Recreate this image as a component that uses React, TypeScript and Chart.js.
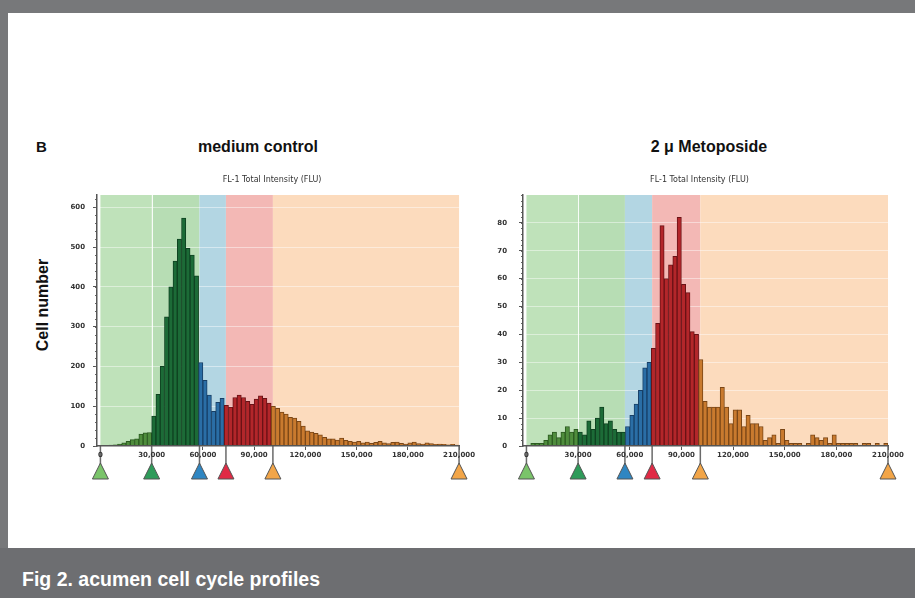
import React, { useEffect, useRef } from "react";
import { Chart, registerables } from "chart.js";

Chart.register(...registerables);

// Histogram bins: 2,500 FLU wide, 84 bins from 0 to 210,000
const BIN_WIDTH = 2500;
const X_TICKS = [0, 30000, 60000, 90000, 120000, 150000, 180000, 210000];

// Cell counts per bin, medium control
const controlCounts = [
  0, 1, 2, 3, 5, 8, 12, 16, 18, 30, 33, 34,
  75, 130, 200, 325, 400, 465, 520, 573, 497, 480, 428,
  210, 165, 128, 87, 110, 120,
  102, 98, 122, 128, 122, 112, 105, 118, 126, 120, 108,
  100, 95, 85, 80, 72, 70, 62, 50, 38, 35, 32, 28, 22, 18, 18, 15, 20, 14, 12, 10,
  12, 8, 10, 7, 9, 12, 8, 6, 9, 10, 7, 5, 8, 10, 6, 5, 8, 6, 4, 5, 4, 3, 4, 2,
];

// Cell counts per bin, 2 µ etoposide
const etoposideCounts = [
  0, 1, 1, 1, 2, 4, 5, 3, 5, 7, 5, 6, 5, 4, 9, 6, 10, 14, 8, 9, 6, 5, 5,
  7, 11, 15, 20, 28, 30,
  35, 44, 79, 60, 65, 68, 82, 58, 55, 41, 40,
  31, 16, 14, 14, 14, 21, 14, 8, 13, 13, 7, 11, 8, 8, 7, 2, 3, 4, 1, 6,
  2, 1, 1, 1, 0, 1, 4, 3, 2, 3, 1, 4, 1, 1, 1, 1, 1, 0, 1, 1, 0, 1, 0, 1,
];

// Gate boundaries (sub-G1 | G1 | S | G2/M | >4N)
const controlGates = [0, 30000, 58000, 73500, 101000, 210000];
const etoposideGates = [0, 30000, 57200, 73000, 101000, 210000];

const controlYTicks = [0, 100, 200, 300, 400, 500, 600];
const etoposideYTicks = [0, 10, 20, 30, 40, 50, 60, 70, 80];

const AXIS_TITLE = "FL-1 Total Intensity (FLU)";

const REGION_BG = ["#bfe2ba", "#b7ddb4", "#b3d6e3", "#f3b8b5", "#fcdbbd"];
const BAR_FILL = ["#4f8d3d", "#1c6b37", "#2a6ea6", "#b3262a", "#c97a2e"];
const BAR_EDGE = ["#2b5a20", "#0f4221", "#173f66", "#6a1216", "#7a4616"];
const MARKER_FILL = ["#7ac46a", "#2e9b5a", "#2f86c2", "#e02a45", "#f2a548", "#f2a548"];

const TICK_FONT = { family: "'DejaVu Sans', sans-serif", size: 7, weight: "bold" as const };

type HistProps = {
  counts: number[];
  gates: number[];
  yMax: number;
  yTicks: number[];
  minorStep: number;
  left: number;
  top: number;
  width: number;
  height: number;
  yAxisWidth: number;
  yLabelPad: number;
  padRight: number;
};

function regionOf(x: number, gates: number[]) {
  for (let k = 0; k < gates.length - 2; k++) {
    if (x < gates[k + 1]) return k;
  }
  return gates.length - 2;
}

function Histogram(props: HistProps) {
  const ref = useRef<HTMLCanvasElement | null>(null);

  useEffect(() => {
    const { counts, gates, yMax, yTicks, minorStep, yAxisWidth, yLabelPad, padRight } = props;
    const points = counts.map((c, i) => ({ x: i * BIN_WIDTH + BIN_WIDTH / 2, y: c }));
    const regions = points.map((p) => regionOf(p.x, gates));

    const gatePlugin = {
      id: "gates",
      beforeDraw(chart: any) {
        const { ctx, chartArea } = chart;
        const xs = chart.scales.x;
        ctx.save();
        for (let k = 0; k < gates.length - 1; k++) {
          const x0 = xs.getPixelForValue(gates[k]);
          const x1 = xs.getPixelForValue(gates[k + 1]);
          ctx.fillStyle = REGION_BG[k];
          ctx.fillRect(x0, chartArea.top, x1 - x0, chartArea.bottom - chartArea.top);
        }
        const xw = Math.round(xs.getPixelForValue(gates[1])) + 0.5;
        ctx.strokeStyle = "rgba(255,255,255,0.9)";
        ctx.lineWidth = 1;
        ctx.beginPath();
        ctx.moveTo(xw, chartArea.top);
        ctx.lineTo(xw, chartArea.bottom);
        ctx.stroke();
        ctx.restore();
      },
      afterDatasetsDraw(chart: any) {
        const { ctx, chartArea } = chart;
        const xs = chart.scales.x;
        const ys = chart.scales.y;
        ctx.save();
        // axis title
        ctx.fillStyle = "#333";
        ctx.font = "8px 'DejaVu Sans', sans-serif";
        ctx.textAlign = "center";
        ctx.textBaseline = "middle";
        ctx.fillText(AXIS_TITLE, (chartArea.left + chartArea.right) / 2 - 6, chartArea.top - 15);
        // minor ticks on the y axis
        ctx.strokeStyle = "#666";
        ctx.lineWidth = 1;
        ctx.beginPath();
        for (let v = 0; v <= yMax; v += minorStep) {
          const y = Math.round(ys.getPixelForValue(v)) + 0.5;
          ctx.moveTo(chartArea.left - 2, y);
          ctx.lineTo(chartArea.left, y);
        }
        ctx.stroke();
        // gate markers below the x axis
        const b = chartArea.bottom;
        gates.forEach((g, k) => {
          const x = xs.getPixelForValue(g);
          ctx.strokeStyle = "#6a6a6a";
          ctx.lineWidth = 1.5;
          ctx.beginPath();
          ctx.moveTo(x, b);
          ctx.lineTo(x, b + 24);
          ctx.stroke();
          ctx.fillStyle = MARKER_FILL[k];
          ctx.strokeStyle = "#555";
          ctx.lineWidth = 1;
          ctx.beginPath();
          ctx.moveTo(x, b + 17);
          ctx.lineTo(x + 8, b + 33);
          ctx.lineTo(x - 8, b + 33);
          ctx.closePath();
          ctx.fill();
          ctx.stroke();
        });
        ctx.restore();
      },
    };

    const chart = new Chart(ref.current as HTMLCanvasElement, {
      type: "bar",
      data: {
        datasets: [
          {
            data: points as any,
            backgroundColor: regions.map((r) => BAR_FILL[r]),
            borderColor: regions.map((r) => BAR_EDGE[r]),
            borderWidth: 1,
            barPercentage: 1,
            categoryPercentage: 1,
          },
        ],
      },
      options: {
        animation: false,
        responsive: false,
        maintainAspectRatio: false,
        layout: { padding: { top: 30, right: padRight, bottom: 24, left: 0 } },
        plugins: {
          legend: { display: false },
          tooltip: { enabled: false },
        },
        scales: {
          x: {
            type: "linear",
            offset: false,
            min: -2000,
            max: 210000,
            afterBuildTicks: (s: any) => {
              s.ticks = X_TICKS.map((v) => ({ value: v }));
            },
            afterFit: (s: any) => {
              s.height = 16;
            },
            grid: { drawOnChartArea: false, tickLength: 4, tickColor: "#555", offset: false },
            border: { color: "#555", width: 1.5, z: 1 },
            ticks: {
              font: TICK_FONT,
              color: "#333",
              padding: 1,
              maxRotation: 0,
              autoSkip: false,
              z: 1,
              callback: (v: any) => Number(v).toLocaleString("en-US"),
            },
          },
          y: {
            min: 0,
            max: yMax,
            afterBuildTicks: (s: any) => {
              s.ticks = yTicks.map((v) => ({ value: v }));
            },
            afterFit: (s: any) => {
              s.width = yAxisWidth;
            },
            grid: { color: "rgba(255,255,255,0.45)", tickColor: "#555", tickLength: 4 },
            border: { color: "#555", width: 1.5, z: 1 },
            ticks: { font: TICK_FONT, color: "#333", padding: yLabelPad },
          },
        },
      },
      plugins: [gatePlugin],
    } as any);

    return () => chart.destroy();
  }, []);

  return (
    <canvas
      ref={ref}
      width={props.width}
      height={props.height}
      style={{
        position: "absolute",
        left: props.left,
        top: props.top,
        width: props.width,
        height: props.height,
      }}
    />
  );
}

const headFont = "'Liberation Sans', Arial, sans-serif";

function Label(p: { cx: number; cy: number; text: string; size?: number }) {
  return (
    <div
      style={{
        position: "absolute",
        left: p.cx - 150,
        top: p.cy - 8,
        width: 300,
        lineHeight: "16px",
        textAlign: "center",
        fontWeight: "bold",
        fontSize: p.size ?? 16,
        color: "#111",
        fontFamily: headFont,
        whiteSpace: "nowrap",
      }}
    >
      {p.text}
    </div>
  );
}

export default function App() {
  return (
    <div
      style={{
        position: "absolute",
        left: 0,
        top: 0,
        width: 915,
        height: 598,
        background: "#ffffff",
        overflow: "hidden",
        fontFamily: headFont,
      }}
    >
      <div style={{ position: "absolute", left: 0, top: 0, width: 915, height: 13, background: "#77787a" }} />
      <div style={{ position: "absolute", left: 0, top: 0, width: 8, height: 548, background: "#77787a" }} />
      <div style={{ position: "absolute", left: 0, top: 548, width: 915, height: 50, background: "#6d6e71" }} />
      <div
        style={{
          position: "absolute",
          left: 22,
          top: 569,
          lineHeight: "20px",
          fontSize: 19.5,
          fontWeight: "bold",
          color: "#ffffff",
          whiteSpace: "nowrap",
        }}
      >
        Fig 2. acumen cell cycle profiles
      </div>

      <div
        style={{
          position: "absolute",
          left: 36,
          top: 139,
          lineHeight: "16px",
          fontSize: 15,
          fontWeight: "bold",
          color: "#111",
        }}
      >
        B
      </div>
      <Label cx={258} cy={147} text="medium control" />
      <Label cx={709} cy={147} text="2 μ Metoposide" />
      <div
        style={{
          position: "absolute",
          left: 43 - 100,
          top: 305 - 10,
          width: 200,
          lineHeight: "20px",
          textAlign: "center",
          fontSize: 16,
          fontWeight: "bold",
          color: "#111",
          transform: "rotate(-90deg)",
          whiteSpace: "nowrap",
        }}
      >
        Cell number
      </div>

      <Histogram
        counts={controlCounts}
        gates={controlGates}
        yMax={631}
        yTicks={controlYTicks}
        minorStep={20}
        left={62}
        top={165}
        width={414}
        height={321}
        yAxisWidth={35}
        yLabelPad={8}
        padRight={10}
      />
      <Histogram
        counts={etoposideCounts}
        gates={etoposideGates}
        yMax={90}
        yTicks={etoposideYTicks}
        minorStep={2}
        left={490}
        top={165}
        width={415}
        height={321}
        yAxisWidth={33}
        yLabelPad={12}
        padRight={17}
      />
    </div>
  );
}
